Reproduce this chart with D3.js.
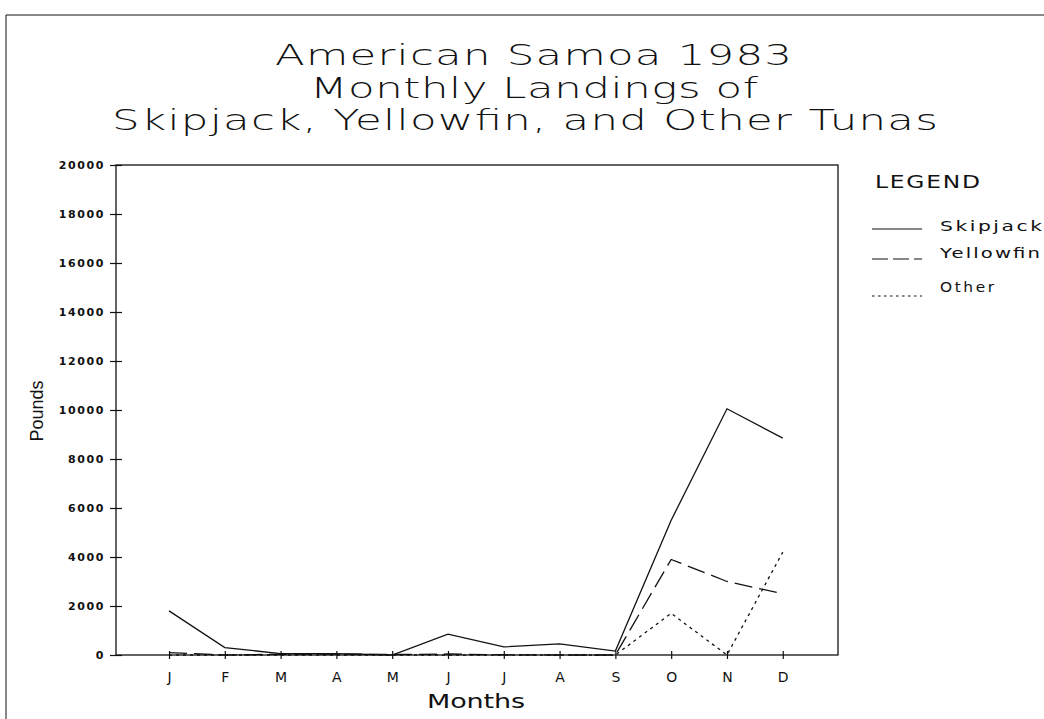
<!DOCTYPE html>
<html><head><meta charset="utf-8">
<script src="https://cdn.jsdelivr.net/npm/d3@7"></script>
<style>body{margin:0;background:#fff}svg{display:block}</style>
</head><body>
<svg id="c" width="1044" height="719"></svg>
<script>
const months = ["J","F","M","A","M","J","J","A","S","O","N","D"];
const skipjack  = [1800, 300, 60, 60, 0, 850, 330, 450, 160, 5500, 10050, 8850];
const yellowfin = [100, 0, 30, 40, 20, 40, 10, 0, 0, 3900, 3000, 2500];
const other     = [0, 0, 0, 0, 0, 0, 0, 0, 0, 1700, 0, 4200];
const yTicks = [0,2000,4000,6000,8000,10000,12000,14000,16000,18000,20000];
const titleLines = ["American Samoa 1983","Monthly Landings of","Skipjack, Yellowfin, and Other Tunas"];
const seriesNames = ["Skipjack","Yellowfin","Other"];

const svg = d3.select("#c");
const L=116,R=838,T=165,B=655;
const x = d3.scaleLinear().domain([0.05,12.99]).range([L,R]);
const y = d3.scaleLinear().domain([0,20000]).range([B,T]);
const ink="#111";
const F="'DejaVu Sans', sans-serif";

// wide (horizontally stretched) text fitted to a given start and length
function wideText(sel, x0, y0, len, txt, size, sx, weight){
  return sel.append("text").attr("transform",`translate(${x0},${y0}) scale(${sx},1)`)
    .attr("x",0).attr("y",0).attr("textLength",len/sx).attr("lengthAdjust","spacing")
    .attr("font-family",F).attr("font-size",size).attr("font-weight",weight||"normal")
    .attr("fill",ink).text(txt);
}

// page frame
svg.append("line").attr("x1",6).attr("x2",1044).attr("y1",15).attr("y2",15).attr("stroke",ink).attr("stroke-width",1);
svg.append("line").attr("x1",6).attr("x2",6).attr("y1",15).attr("y2",719).attr("stroke",ink).attr("stroke-width",1);

// title
const tStart=[275,310,112], tLen=[517,448,826];
const tg = svg.append("g");
titleLines.forEach((t,i)=>wideText(tg, tStart[i], 65+i*32.5, tLen[i], t, 29, 1.5, 200));

// plot frame
svg.append("rect").attr("x",L).attr("y",T).attr("width",R-L).attr("height",B-T)
  .attr("fill","none").attr("stroke",ink).attr("stroke-width",1.3);

// y axis
const ya = svg.append("g").attr("transform",`translate(${L},0)`)
  .call(d3.axisLeft(y).tickValues(yTicks).tickFormat(d3.format("d")).tickSizeInner(6).tickSizeOuter(0).tickPadding(4));
ya.select(".domain").remove();
ya.selectAll(".tick line").attr("x2",6).attr("x1",-6).attr("stroke",ink).attr("stroke-width",1.2);
ya.selectAll(".tick text").attr("font-family",F).attr("font-weight","bold")
  .attr("font-size",11).attr("letter-spacing",1.6).attr("fill",ink).attr("x",-11);

// x axis
const xa = svg.append("g").attr("transform",`translate(0,${B})`)
  .call(d3.axisBottom(x).tickValues(d3.range(1,13)).tickFormat(d=>months[d-1]).tickSizeOuter(0).tickPadding(6));
xa.select(".domain").remove();
xa.selectAll(".tick line").attr("y1",-4).attr("y2",4).attr("stroke",ink).attr("stroke-width",1.2);
xa.selectAll(".tick text").attr("font-family",F).attr("font-size",14)
  .attr("fill",ink).attr("y",27).attr("dy",0);

// axis labels
wideText(svg, 427, 708, 98, "Months", 20, 1.35);
svg.append("text").attr("transform","translate(43,411) rotate(-90)").attr("text-anchor","middle")
  .attr("font-family","'Liberation Sans Narrow', 'Liberation Sans', sans-serif").attr("font-size",18)
  .attr("fill",ink).text("Pounds");

// lines
const dashes = [null,"18,7","3,4"];
const data = [skipjack,yellowfin,other];
const line = d3.line().x((d,i)=>x(i+1)).y(d=>y(d));
svg.append("g").selectAll("path").data(data).join("path")
  .attr("d",line).attr("fill","none").attr("stroke",ink).attr("stroke-width",1.3)
  .attr("stroke-dasharray",(d,i)=>dashes[i]);

// legend
const lg = svg.append("g");
wideText(lg, 875, 188, 105, "LEGEND", 18, 1.3);
const lineY=[229,259,296], textY=[231,258,292], textL=[102,100,54], textSx=[1.45,1.4,1.1];
lg.selectAll("line").data(seriesNames).join("line")
  .attr("x1",872).attr("x2",922).attr("y1",(d,i)=>lineY[i]).attr("y2",(d,i)=>lineY[i])
  .attr("stroke",ink).attr("stroke-width",1.2).attr("stroke-dasharray",(d,i)=>i==1?"16,5":i==2?"2.5,3.5":null);
seriesNames.forEach((n,i)=>wideText(lg, 940, textY[i], textL[i], n, 14, textSx[i]));
</script>
</body></html>
